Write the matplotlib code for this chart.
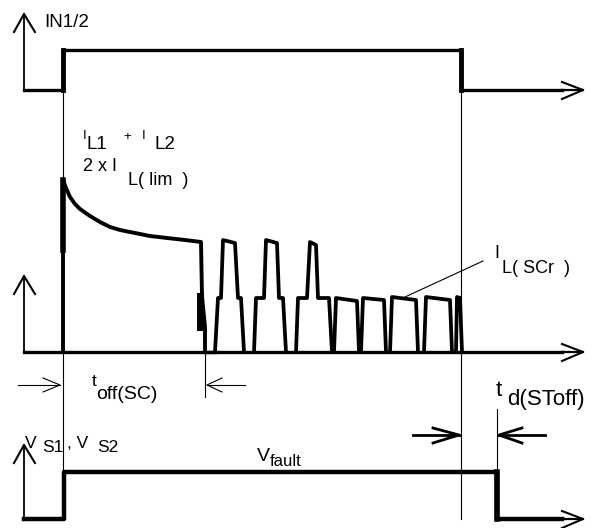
import matplotlib.pyplot as plt

plt.rcParams['font.family'] = ['Liberation Sans', 'DejaVu Sans']

# time marks (px along the drawing)
t_start = 24
t_on = 63
t_sc = 205
t_off = 461
t_stoff = 497
t_end = 562

# levels of the three traces (px, y grows downwards)
in_low, in_high = 90, 50
i_zero = 352
v_low, v_high = 519, 472

# input IN1/2
in_t = [t_start, t_on, t_on, t_off, t_off, t_end]
in_y = [in_low, in_low, in_high, in_high, in_low, in_low]

# load current: peak at switch-on, then decay until t_off(SC)
dec_t = [63, 63, 66, 70, 75, 80, 90, 100, 110, 120, 135, 150, 167, 185, 201, 202, 205, 205]
dec_y = [352, 180, 188, 197, 204, 209, 216, 222, 227, 230, 233, 236, 238, 240, 242, 296, 327, 352]

# restart pulses (each a list of (t, i) corners)
pulses = [
    [(215, 352), (218, 298), (221, 298), (223, 240), (235, 243), (238, 298), (241, 298), (244, 352)],
    [(254, 352), (256, 298), (264, 298), (266, 240), (277, 243), (279, 298), (283, 298), (286, 352)],
    [(296, 352), (298, 298), (307, 298), (310, 242), (316, 245), (318, 298), (329, 298), (332, 352)],
    [(334, 352), (336, 298), (357, 301), (359, 352)],
    [(361, 352), (363, 298), (384, 300), (386, 352)],
    [(390, 352), (392, 297), (416, 300), (418, 352)],
    [(424, 352), (426, 297), (450, 300), (452, 352)],
    [(456, 352), (457, 297), (460, 298), (462, 352)],
]

# status output V_S1, V_S2
vs_t = [t_start, 64, 64, t_stoff, t_stoff, t_end]
vs_y = [v_low, v_low, v_high, v_high, v_low, v_low]

fig = plt.figure(figsize=(5.99, 5.28), dpi=100)
ax = fig.add_axes([0, 0, 1, 1])
ax.set_xlim(0, 599)
ax.set_ylim(528, 0)
ax.axis('off')

k = 'black'
lw = 2.4

# axes with open arrow heads
for base, tip in [(in_low, 14), (i_zero, 276), (v_low, 445)]:
    ax.plot([t_start, t_start], [base, tip], color=k, lw=1.3)
    ax.plot([14, t_start, 35], [tip + 18, tip, tip + 18], color=k, lw=1.5)
    ax.plot([t_end, 583], [base, base], color=k, lw=1.6)
    ax.plot([562, 583, 562], [base - 8, base, base + 9], color=k, lw=1.5)

# traces
ax.plot(in_t, in_y, color=k, lw=lw)
ax.plot([t_on, t_on], [in_low, in_high], color=k, lw=3.5)
ax.plot([t_off, t_off], [in_low, in_high], color=k, lw=3.5)

ax.plot([t_start, t_end], [i_zero, i_zero], color=k, lw=lw)
ax.plot(dec_t, dec_y, color=k, lw=lw + 0.4)
ax.plot([t_on, t_on], [180, 250], color=k, lw=4)
ax.plot([200, 200], [296, 327], color=k, lw=5)
ax.plot([t_sc, 215], [i_zero, i_zero], color=k, lw=lw)
for p in pulses:
    ax.plot([a for a, b in p], [b for a, b in p], color=k, lw=lw + 0.3)

ax.plot(vs_t, vs_y, color=k, lw=lw + 0.8)
ax.plot([t_stoff, t_stoff], [v_high, v_low], color=k, lw=4)

# thin time markers
ax.plot([t_on, t_on], [in_low, 505], color=k, lw=0.8)
ax.plot([t_off, t_off], [in_low, v_low], color=k, lw=0.8)
ax.plot([t_sc, t_sc], [i_zero, 397], color=k, lw=0.8)
ax.plot([t_stoff, t_stoff], [409, v_high], color=k, lw=0.8)

# t_off(SC) dimension arrows
ax.plot([18, 60], [385, 385], color=k, lw=0.8)
ax.plot([43, 60, 43], [378, 385, 392], color=k, lw=0.8)
ax.plot([207, 245], [385, 385], color=k, lw=0.8)
ax.plot([222, 207, 222], [378, 385, 392], color=k, lw=0.8)

# t_d(SToff) dimension arrows
ax.plot([413, 459], [435, 435], color=k, lw=2)
ax.plot([433, 459, 433], [428, 435, 443], color=k, lw=2)
ax.plot([499, 545], [435, 435], color=k, lw=2)
ax.plot([522, 499, 522], [428, 435, 443], color=k, lw=2)

# leader for I_L(SCr)
ax.plot([405, 483], [297, 261], color=k, lw=0.8)

def txt(x, y, s, size):
    ax.text(x, y, s, fontsize=size, va='baseline', ha='left', color=k)

txt(44, 27, 'IN1/2', 13.5)

txt(83, 139, 'I', 9.5)
txt(87, 149, 'L1', 13.5)
txt(123, 140, '+', 9.5)
txt(142, 139, 'I', 9.5)
txt(154, 149, 'L2', 13.5)
txt(83, 171, '2 x I', 13)
txt(128, 185, 'L( lim  )', 13)

txt(494, 258, 'I', 13)
txt(502, 273, 'L( SCr  )', 13)

txt(92, 386, 't', 12.5)
txt(96, 399, 'off(SC)', 14)

txt(496, 396, 't', 16)
txt(507, 405, 'd(SToff)', 16)

txt(25, 448, 'V', 12.5)
txt(42, 452, 'S1', 12.5)
txt(67, 448, ', V', 12.5)
txt(97, 452, 'S2', 12.5)

txt(257, 461, 'V', 14)
txt(270, 466, 'fault', 12)

fig.savefig('out.png', dpi=100)
